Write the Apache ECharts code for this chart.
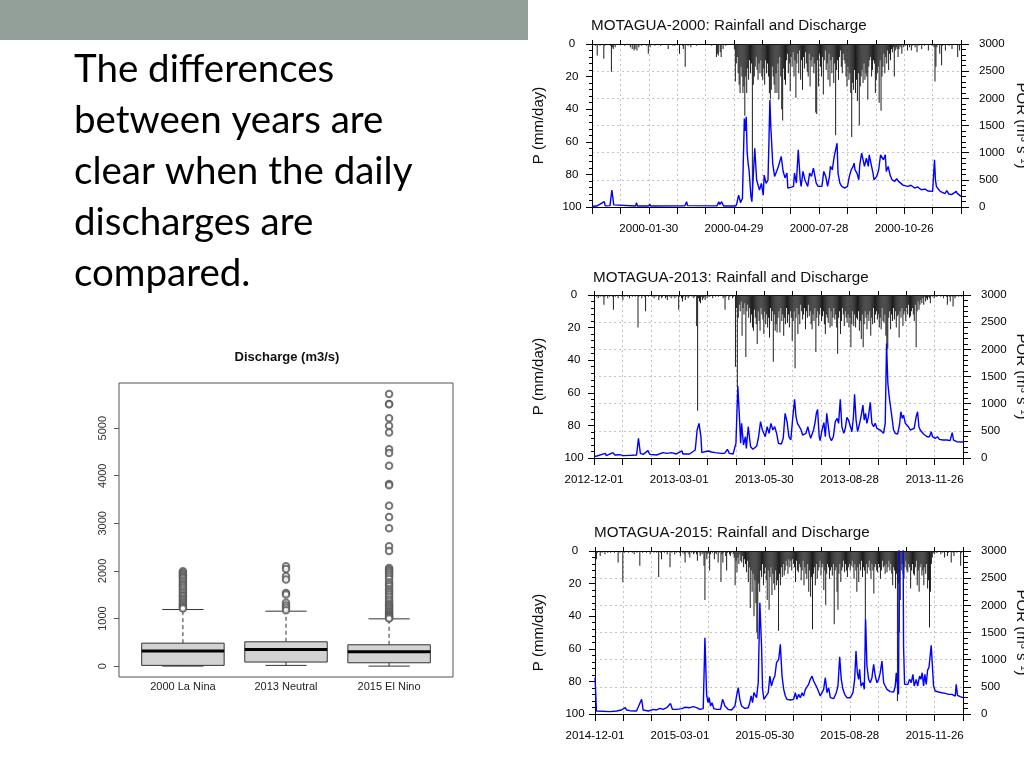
<!DOCTYPE html>
<html>
<head>
<meta charset="utf-8">
<title>Motagua rainfall and discharge</title>
<script src="https://cdn.jsdelivr.net/npm/echarts@6/dist/echarts.min.js"></script>
<style>
  html, body { margin: 0; padding: 0; background: #fff; }
  #chart { width: 1024px; height: 768px; }
</style>
</head>
<body>
<div id="chart"></div>
<script>
// daily rainfall P (mm/day), one row per 30 days, day 0 = left edge of the axis
const rain2000 = [
  0,0,0,1,0,7,0,0,1,0, 0,0,9,1,0,0,0,0,0,1, 17,2,3,0,2,0,0,0,0,0,
  0,0,0,0,1,0,0,0,0,0, 2,0,3,0,4,3,0,4,0,2, 0,0,1,0,0,0,0,1,0,6,
  0,2,0,0,0,0,1,0,0,0, 0,0,1,0,0,0,0,0,0,0, 3,0,0,0,0,1,0,1,0,0,
  0,0,6,0,0,1,3,0,14,0, 0,1,0,0,2,0,0,0,0,0, 1,0,0,0,0,0,0,0,0,0,
  0,0,0,0,0,0,1,0,0,0, 0,8,6,7,0,5,8,0,3,0, 0,1,0,0,0,0,0,0,0,0,
  3,23,12,8,18,25,30,14,20,30, 26,44,20,30,15,22,10,18,12,93, 25,20,14,8,16,22,12,18,10,20,
  22,15,25,10,18,12,20,30,34,28, 14,20,25,30,18,30,12,34,8,20, 40,47,15,22,25,10,6,18,12,29,
  8,14,5,20,10,33,12,6,18,4, 22,10,28,8,15,5,12,17,20,6, 26,10,14,8,18,12,42,43,10,26,
  6,14,20,8,31,10,4,16,12,22, 6,26,10,18,8,24,12,56,16,10, 22,8,4,14,18,6,10,12,20,26,
  14,22,18,30,57,24,28,16,30,22, 35,18,50,26,20,16,24,12,22,18, 20,34,14,10,8,20,16,10,12,30,
  22,18,14,36,10,41,20,14,6,18, 8,12,4,16,6,10,3,5,2,20, 4,2,3,8,3,1,2,6,0,2,
  0,1,0,4,0,2,0,4,1,0, 0,2,0,5,0,1,0,0,3,0, 0,1,0,0,0,4,0,0,0,1,
  0,2,23,14,2,0,0,6,0,13, 1,0,0,4,0,0,0,1,0,0, 3,0,0,0,0,0,8,0,4,0
];
const rain2013 = [
  0,0,1,0,2,0,1,0,0,1, 6,1,0,0,2,0,1,0,0,1, 9,0,1,0,0,2,0,0,0,1,
  3,0,1,0,0,1,0,2,0,0, 1,0,0,1,0,0,20,1,0,0, 2,0,0,1,10,0,0,1,0,0,
  0,1,0,2,0,1,0,0,3,1, 0,2,1,0,0,2,1,3,0,1, 0,2,0,1,0,2,0,1,0,9,
  1,0,2,4,1,0,3,1,0,2, 1,0,0,1,0,2,1,0,19,71, 2,4,5,1,3,2,1,3,0,2,
  0,1,1,0,0,2,0,0,1,0, 0,1,0,0,0,0,2,1,9,1, 0,0,3,1,0,0,2,1,0,44,
  8,56,14,6,10,4,25,8,12,5, 38,10,6,14,8,17,12,20,22,9, 14,18,30,10,16,22,8,12,15,24,
  10,18,12,20,14,26,8,16,10,41, 12,22,18,23,14,10,23,8,16,12, 25,14,18,8,17,12,20,10,14,28,
  16,10,45,14,8,24,12,18,6,10, 15,12,8,21,10,14,6,13,10,18, 21,12,16,8,35,14,10,19,12,8,
  16,13,10,18,24,12,14,17,8,20, 10,19,14,8,15,12,20,36,14,10, 24,16,8,12,19,10,14,17,12,20,
  14,32,18,10,19,12,20,14,15,10, 22,16,27,12,32,18,10,14,21,12, 16,10,25,14,18,8,17,12,10,15,
  12,20,14,21,8,16,17,12,25,34, 33,14,10,21,12,16,8,15,10,20, 13,12,26,10,14,8,19,12,10,16,
  8,12,6,14,13,10,8,12,16,6, 32,10,4,9,6,3,5,2,6,1, 4,2,3,1,2,5,0,1,0,2,
  0,1,1,0,0,0,1,0,0,2, 0,0,1,6,0,1,4,0,1,7, 0,2,1,0,0,1,0,0,1,0
];
const rain2015 = [
  37,5,1,0,0,3,0,1,0,0, 2,0,0,1,0,0,1,0,0,0, 1,0,0,0,7,0,1,0,0,19,
  0,1,0,0,0,1,0,0,0,1, 0,2,0,0,1,0,0,9,0,0, 1,0,0,0,1,0,0,0,2,0,
  0,0,1,0,0,1,0,16,0,1, 5,0,0,1,0,0,2,0,0,10, 0,1,0,0,2,0,1,0,0,1,
  3,0,1,0,2,7,0,1,0,2, 4,0,1,0,2,1,0,2,6,0, 1,3,0,2,1,9,30,1,5,2,
  1,12,2,0,1,0,5,1,2,0, 7,1,0,19,2,7,1,0,3,12, 1,0,2,3,1,0,2,4,21,6,
  13,4,8,2,6,7,3,10,5,8, 13,6,19,10,35,12,25,14,40,18, 32,50,54,20,25,12,16,8,21,14,
  10,18,30,12,36,16,10,27,14,20, 24,12,21,18,49,14,21,10,16,8, 15,12,6,9,14,5,10,6,12,5,
  8,10,19,6,12,13,8,10,18,12, 6,21,10,14,17,8,25,12,28,16, 48,14,10,21,8,17,12,10,6,15,
  10,8,24,12,33,14,8,10,17,12, 10,15,8,45,12,10,25,36,14,8, 19,12,10,6,13,8,12,16,10,8,
  12,9,6,10,17,8,12,25,10,19, 8,12,6,16,10,12,55,8,14,10, 6,12,17,8,12,26,10,8,12,13,
  8,10,17,12,6,10,9,14,8,13, 10,6,12,8,14,21,10,12,23,14, 92,20,50,30,12,8,14,17,10,6,
  12,13,8,10,23,12,8,14,15,10, 6,21,12,25,10,8,15,12,21,10, 14,8,23,18,47,25,8,4,1,2,
  0,1,1,0,0,0,2,0,1,0, 4,0,0,3,1,0,0,7,0,1, 3,0,0,1,0,0,0,9,1,0
];

// discharge Q (m3/s) as [day, value]
const flow2000 = [[0,15],[5,18],[6,37],[7,18],[13,98],[14,20],[19,25],[21,313],[23,40],[25,18],[46,18],[47,80],[48,18],[60,18],[61,55],[62,18],[98,20],[100,98],[101,25],[132,20],[134,98],[135,45],[137,98],[139,18],[152,18],[153,60],[155,220],[157,80],[159,160],[161,1630],[162,1400],[163,1660],[164,1000],[165,803],[166,680],[168,190],[169,98],[172,1080],[174,497],[175,466],[177,313],[179,435],[181,220],[182,588],[184,435],[186,497],[187,1200],[188,1968],[189,1477],[191,800],[193,563],[195,650],[197,747],[200,930],[201,961],[202,657],[204,535],[206,624],[207,349],[210,360],[213,379],[214,624],[216,441],[218,1053],[220,508],[221,379],[223,655],[225,502],[228,379],[230,624],[232,563],[234,716],[235,747],[237,441],[239,379],[243,379],[245,655],[247,563],[249,379],[251,563],[252,747],[254,685],[256,930],[257,961],[259,1175],[260,624],[262,441],[264,379],[267,349],[270,379],[272,563],[274,685],[276,747],[277,808],[278,685],[280,624],[282,502],[283,777],[285,991],[287,961],[288,747],[290,900],[292,747],[293,961],[295,961],[297,624],[298,502],[301,563],[303,685],[305,961],[307,991],[308,869],[310,961],[311,655],[313,747],[315,594],[317,502],[318,520],[320,471],[322,520],[324,471],[326,500],[329,398],[331,430],[334,379],[337,400],[341,349],[344,370],[348,318],[352,330],[355,294],[360,288],[362,869],[363,500],[364,379],[366,330],[368,288],[373,245],[375,300],[377,240],[380,227],[385,288],[386,250],[388,270],[390,196]];
const flow2013 = [[0,25],[3,37],[12,86],[13,43],[20,98],[22,55],[27,61],[31,43],[38,49],[45,55],[47,362],[49,86],[52,67],[57,135],[59,67],[66,55],[73,98],[77,86],[82,98],[87,74],[93,129],[94,74],[101,74],[107,147],[109,515],[111,638],[113,392],[114,98],[117,116],[121,129],[124,110],[128,98],[135,86],[138,86],[141,160],[143,86],[147,74],[149,86],[150,270],[152,1324],[153.5,821],[155,270],[156,638],[158,239],[160,392],[161,178],[163,576],[165.5,208],[168,160],[172,221],[174,392],[176,668],[178,515],[181,392],[183,576],[185,454],[187,638],[189,515],[191,576],[193,454],[195,270],[198,257],[200,362],[202,821],[204,668],[206,392],[208,331],[210,729],[212,1079],[213.5,760],[215,638],[217,576],[219,515],[220.5,423],[222,392],[224,454],[226,576],[227.5,454],[229,362],[232,515],[233.5,638],[235,821],[236.3,895],[238,392],[239,319],[241,515],[243,650],[244.5,392],[246,821],[247.6,852],[249,392],[251,319],[253,392],[255,668],[257,729],[258.5,638],[260.3,1079],[262,576],[264,454],[265.6,546],[267.3,748],[269,699],[271,729],[272.6,484],[274.2,760],[275.4,1171],[277,699],[278.6,484],[280.7,638],[282.5,791],[284.2,975],[285.6,699],[287,821],[288.4,638],[290,760],[292,1024],[293.7,638],[295.5,576],[297.2,638],[299,546],[300.8,576],[302.5,515],[304.3,484],[306,454],[307.8,638],[309.2,2109],[310.6,1373],[312,1128],[313.1,1140],[314.8,760],[316.6,515],[318.4,454],[320.8,441],[322.9,607],[324.3,852],[325.8,729],[327.2,791],[329,638],[330.7,668],[332.4,576],[334.2,515],[336,484],[338.4,546],[340.5,760],[342,852],[343.4,576],[344.8,515],[348.3,441],[352,392],[354.6,392],[356.4,484],[357.8,392],[360.6,362],[363,392],[365,343],[368.7,331],[373,331],[376.4,319],[378.6,466],[380,331],[383.5,300],[390,295]];
const flow2015 = [[0,668],[0.5,500],[1.5,55],[3.5,37],[16,43],[23,55],[28,74],[32,116],[33.5,74],[37,61],[44,55],[49.4,270],[51,74],[56.5,55],[62,86],[65,74],[69,104],[72,86],[76,116],[80,196],[82,86],[86.5,86],[92,98],[95,123],[100.6,116],[104,135],[107.7,116],[111,86],[114.7,98],[116.5,1404],[118.3,362],[119.7,208],[121,300],[122.5,147],[124,208],[126,98],[129,86],[133,86],[135.2,270],[137.7,147],[141,86],[144.7,74],[148.3,147],[150,331],[151.8,484],[153.5,270],[155.3,147],[158.8,104],[162.4,116],[164,208],[165.5,331],[167,208],[168.4,392],[170,423],[171.2,300],[173,576],[174.7,2047],[176.5,1251],[177.6,454],[179,270],[181,300],[183.6,392],[185.3,699],[187,515],[189,638],[190.6,699],[192.4,944],[194.7,1005],[196.4,1281],[198.2,699],[200,454],[201.7,331],[203.5,270],[207,257],[210.5,270],[212.3,392],[214,270],[215.8,362],[217.6,300],[219.4,392],[221,331],[223,454],[224.7,423],[226.4,546],[228.2,638],[230,699],[231.7,607],[233.5,576],[235.3,484],[237,454],[238.8,331],[240.6,300],[242.3,454],[244.1,668],[245.9,392],[247.6,484],[249.4,300],[252.9,282],[255.7,392],[257.5,515],[259.3,1054],[261,638],[262.8,454],[264.6,362],[267,300],[270.6,300],[273.4,392],[275.2,638],[276.6,1159],[278,760],[279.4,638],[280.4,821],[281.9,515],[284,576],[285.4,454],[286.8,1741],[288.2,883],[290,638],[291.7,576],[293.5,668],[295.3,913],[297,699],[298.8,576],[300.6,638],[302.3,760],[304.1,975],[305.9,576],[307.6,515],[309.4,454],[312.9,411],[316.5,405],[318.2,515],[319.3,760],[320.7,515],[321.7,362],[323,5700],[324.5,5500],[326,5200],[327,1251],[328.1,546],[329.9,515],[331.6,546],[333.4,638],[335.2,576],[336.9,729],[338.3,515],[340.5,638],[341.9,515],[344,699],[345.4,638],[346.8,760],[348.2,515],[349.6,729],[351,546],[352.5,809],[353.9,852],[355.3,821],[356.3,1263],[357.8,821],[358.8,515],[360.6,423],[364.1,405],[367.6,392],[371.2,380],[374.7,362],[378.2,362],[380,343],[381.8,331],[382.8,546],[384.2,343],[387,319],[390,300]];

// date labels for the 30-day ticks (index = day / 30)
const ticks2000 = ['', '', '2000-01-30', '', '', '2000-04-29', '', '', '2000-07-28', '', '', '2000-10-26', '', ''];
const ticks2013 = ['2012-12-01', '', '', '2013-03-01', '', '', '2013-05-30', '', '', '2013-08-28', '', '', '2013-11-26', ''];
const ticks2015 = ['2014-12-01', '', '', '2015-03-01', '', '', '2015-05-30', '', '', '2015-08-28', '', '', '2015-11-26', ''];

// boxplot: [min, Q1, median, Q3, upper whisker] and the outliers
const boxNames = ['2000 La Nina', '2013 Neutral', '2015 El Nino'];
const boxStats = [
  [0, 15, 315, 482, 1189],
  [15, 85, 350, 511, 1154],
  [0, 70, 301, 448, 993]
];
const out2000 = [1993,1960,1930,1900,1870,1840,1800,1760,1720,1690,1650,1610,1570,1530,1490,1460,1420,1390,1350,1320,1290,1260,1230,1210];
const out2013 = [2098,2042,1888,1818,1538,1503,1329,1273,1224,1175];
const out2015 = [5720,5510,5500,5210,5050,4909,4559,4480,4210,3825,3800,3371,3133,2895,2517,2420,2063,2030,2000,1960,1920,1880,1830,1760,1720,1680,1620,1580,1540,1500,1450,1400,1360,1310,1280,1250,1220,1190,1160,1130,1100,1080,1060,1040,1020,1000];
const boxTicks = [0, 1000, 2000, 3000, 4000, 5000];

const FONT = 'Liberation Sans, Arial, sans-serif';

const panels = [
  { title: 'MOTAGUA-2000: Rainfall and Discharge', rain: rain2000, flow: flow2000, ticks: ticks2000, left: 592, top: 44, width: 369, titleY: 26 },
  { title: 'MOTAGUA-2013: Rainfall and Discharge', rain: rain2013, flow: flow2013, ticks: ticks2013, left: 594, top: 295, width: 369, titleY: 278 },
  { title: 'MOTAGUA-2015: Rainfall and Discharge', rain: rain2015, flow: flow2015, ticks: ticks2015, left: 595, top: 551, width: 368, titleY: 533 }
];

const myChart = echarts.init(document.getElementById('chart'), null, { renderer: 'canvas' });

let grid = [], xAxis = [], yAxis = [], series = [];
let graphic = [
  { type: 'rect', shape: { x: 0, y: 0, width: 528, height: 40 }, style: { fill: '#93a09a' } }
];

const blackLine = { show: true, onZero: false, lineStyle: { color: '#000', width: 1 } };
const dashGrid = { show: true, showMinLine: false, showMaxLine: false, lineStyle: { color: '#c4c4c4', width: 1, type: [2, 3] } };
const plain = v => String(v);

panels.forEach((p, i) => {
  grid.push({ left: p.left, top: p.top, width: p.width, height: 163, outerBoundsMode: 'none' });
  // bottom (dates) and top axis
  xAxis.push({
    gridIndex: i, type: 'value', min: 0, max: 390, interval: 30, position: 'bottom',
    axisLine: blackLine,
    axisTick: { show: true, inside: false, length: 7, lineStyle: { color: '#000' } },
    axisLabel: {
      margin: 16, fontSize: 11.5, color: '#000', fontFamily: FONT, hideOverlap: false,
      showMinLabel: true, showMaxLabel: true,
      formatter: v => p.ticks[Math.round(v / 30)] || ''
    },
    splitLine: dashGrid
  });
  xAxis.push({
    gridIndex: i, type: 'value', min: 0, max: 390, interval: 30, position: 'top',
    axisLine: blackLine,
    axisTick: { show: true, inside: false, length: 4, lineStyle: { color: '#000' } },
    axisLabel: { show: false },
    splitLine: { show: false }
  });
  // left: rainfall (inverted), right: discharge
  yAxis.push({
    gridIndex: i, type: 'value', inverse: true, min: 0, max: 100, interval: 20, position: 'left',
    axisLine: blackLine,
    axisTick: { show: true, inside: false, length: 6, lineStyle: { color: '#000' } },
    minorTick: { show: true, splitNumber: 5, length: 3, lineStyle: { color: '#000' } },
    axisLabel: { align: 'center', margin: 20, fontSize: 11.5, color: '#000', fontFamily: FONT, formatter: plain },
    splitLine: { show: false }
  });
  yAxis.push({
    gridIndex: i, type: 'value', min: 0, max: 3000, interval: 500, position: 'right',
    axisLine: blackLine,
    axisTick: { show: true, inside: false, length: 8, lineStyle: { color: '#000' } },
    minorTick: { show: true, splitNumber: 5, length: 5, lineStyle: { color: '#000' } },
    axisLabel: { align: 'left', margin: 18, fontSize: 11.5, color: '#000', fontFamily: FONT, formatter: plain },
    splitLine: dashGrid
  });
  series.push({
    type: 'bar', xAxisIndex: 2 * i, yAxisIndex: 2 * i,
    data: p.rain.map((v, d) => [d + 0.5, v]),
    barWidth: 1, itemStyle: { color: '#1c1c1c' }, silent: true
  });
  series.push({
    type: 'line', xAxisIndex: 2 * i, yAxisIndex: 2 * i + 1,
    data: p.flow, showSymbol: false, symbol: 'none', clip: true,
    lineStyle: { color: '#0000ff', width: 1.4 }, silent: true
  });
  const midY = p.top + 163 / 2;
  graphic.push({ type: 'text', x: p.left - 1, y: p.titleY,
    style: { text: p.title, font: '15.2px ' + FONT, fill: '#111', align: 'left', verticalAlign: 'middle', textAlign: 'left', textVerticalAlign: 'middle' } });
  graphic.push({ type: 'text', x: 539, y: midY, rotation: Math.PI / 2,
    style: { text: 'P (mm/day)', font: '15px ' + FONT, fill: '#111', align: 'center', verticalAlign: 'middle', textAlign: 'center', textVerticalAlign: 'middle' } });
  graphic.push({ type: 'text', x: 1021, y: midY, rotation: -Math.PI / 2,
    style: { text: 'POR (m³ s⁻¹)', font: '15px ' + FONT, fill: '#111', align: 'center', verticalAlign: 'middle', textAlign: 'center', textVerticalAlign: 'middle' } });
});

// boxplot panel
grid.push({ left: 119, top: 383, width: 334, height: 294, show: true, borderColor: '#555', borderWidth: 1, outerBoundsMode: 'none' });
xAxis.push({
  gridIndex: 3, type: 'value', min: 0.38, max: 3.62,
  axisLine: { show: false }, axisTick: { show: false }, splitLine: { show: false },
  axisLabel: { customValues: [1, 2, 3], margin: 4, fontSize: 11, color: '#222', fontFamily: FONT,
    formatter: v => boxNames[Math.round(v) - 1] }
});
yAxis.push({
  gridIndex: 3, type: 'value', min: -229, max: 5949,
  axisLine: { show: false }, splitLine: { show: false },
  axisTick: { show: true, customValues: boxTicks, length: 5, lineStyle: { color: '#555' } },
  axisLabel: { customValues: boxTicks, rotate: 90, margin: 11, fontSize: 11, color: '#333', fontFamily: FONT, formatter: plain }
});
series.push({
  type: 'custom', xAxisIndex: 6, yAxisIndex: 6,
  data: boxStats.map((s, i) => [i + 1].concat(s)),
  encode: { x: 0, y: [1, 2, 3, 4, 5] },
  renderItem: function (params, api) {
    const x = api.value(0);
    const lo = api.coord([x, api.value(1)]);
    const q1 = api.coord([x, api.value(2)]);
    const md = api.coord([x, api.value(3)]);
    const q3 = api.coord([x, api.value(4)]);
    const hi = api.coord([x, api.value(5)]);
    const w = api.size([0.8, 0])[0];
    const cx = lo[0];
    const dash = { stroke: '#333', lineWidth: 1, lineDash: [4, 3] };
    const solid = { stroke: '#333', lineWidth: 1 };
    return {
      type: 'group',
      children: [
        { type: 'line', shape: { x1: cx, y1: q3[1], x2: cx, y2: hi[1] }, style: dash },
        { type: 'line', shape: { x1: cx, y1: q1[1], x2: cx, y2: lo[1] }, style: dash },
        { type: 'line', shape: { x1: cx - w / 4, y1: hi[1], x2: cx + w / 4, y2: hi[1] }, style: solid },
        { type: 'line', shape: { x1: cx - w / 4, y1: lo[1], x2: cx + w / 4, y2: lo[1] }, style: solid },
        { type: 'rect', shape: { x: cx - w / 2, y: q3[1], width: w, height: q1[1] - q3[1] }, style: { fill: '#d3d3d3', stroke: '#333', lineWidth: 1 } },
        { type: 'line', shape: { x1: cx - w / 2, y1: md[1], x2: cx + w / 2, y2: md[1] }, style: { stroke: '#000', lineWidth: 3 } }
      ]
    };
  }
});
series.push({
  type: 'scatter', xAxisIndex: 6, yAxisIndex: 6,
  symbol: 'emptyCircle', symbolSize: 6.5,
  itemStyle: { color: '#555', borderWidth: 0.8 },
  data: out2000.map(v => [1, v]).concat(out2013.map(v => [2, v]), out2015.map(v => [3, v]))
});
graphic.push({ type: 'text', x: 287, y: 357,
  style: { text: 'Discharge (m3/s)', font: 'bold 13px ' + FONT, fill: '#111', align: 'center', verticalAlign: 'middle', textAlign: 'center', textVerticalAlign: 'middle' } });

// slide text
const lines = ['The differences', 'between years are', 'clear when the daily', 'discharges are', 'compared.'];
lines.forEach((t, k) => {
  graphic.push({ type: 'text', x: 74, y: 70 + k * 50.8,
    style: { text: t, font: '38.5px Lato, sans-serif', fill: '#000', align: 'left', verticalAlign: 'middle', textAlign: 'left', textVerticalAlign: 'middle' } });
});

myChart.setOption({
  animation: false,
  backgroundColor: '#fff',
  grid: grid,
  xAxis: xAxis,
  yAxis: yAxis,
  series: series,
  graphic: { elements: graphic }
});
</script>
</body>
</html>
